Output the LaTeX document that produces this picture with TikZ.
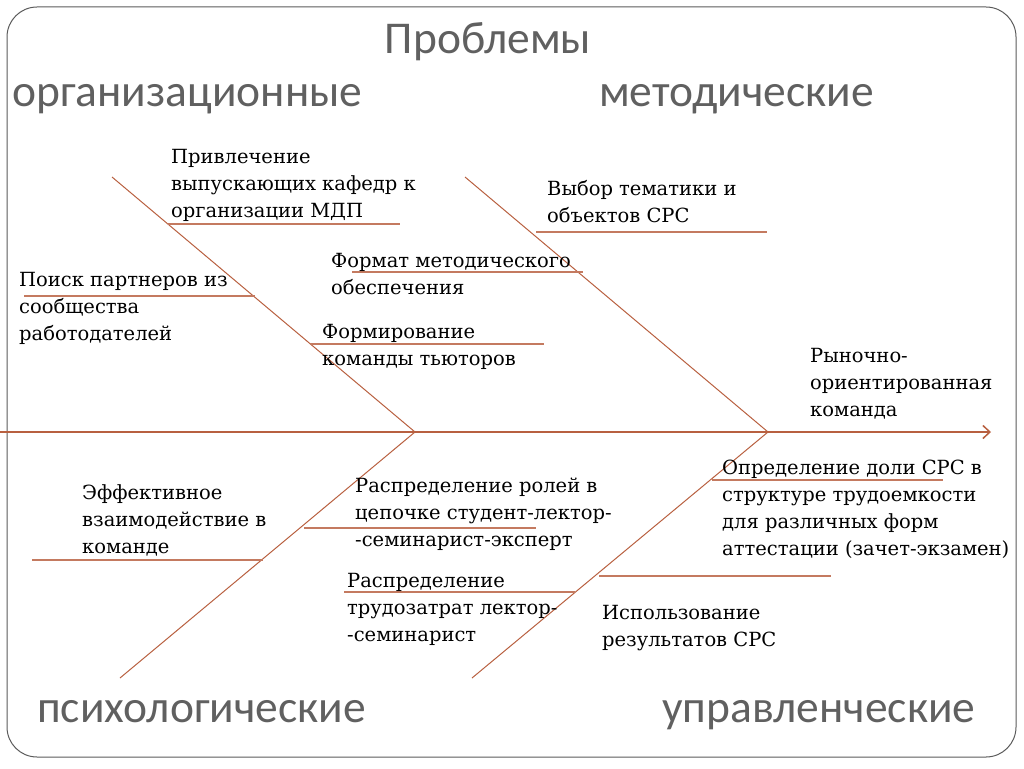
\documentclass[tikz,border=0pt]{standalone}
\usepackage{fontspec}
\setmainfont{DejaVu Serif}
\newfontfamily\headfont{Carlito}
\usetikzlibrary{arrows.meta}
\definecolor{bone}{RGB}{184,96,64}
\definecolor{rib}{RGB}{196,122,96}
\definecolor{headgray}{RGB}{96,96,96}
\definecolor{framegray}{RGB}{90,90,90}
\newcommand\ml[1]{\begin{tabular}[t]{@{}l@{}}#1\end{tabular}}
\tikzset{
  bodytext/.style={anchor=base west, inner sep=0pt, font=\fontsize{19.5}{27}\selectfont, text=black},
  headtext/.style={anchor=base west, inner sep=0pt, font=\headfont\fontsize{45.5}{52}\selectfont, text=headgray},
  boneline/.style={draw=bone, line width=1pt},
  spineline/.style={draw=bone, line width=2pt},
  ribline/.style={draw=rib, line width=1.5pt},
}
\begin{document}
\begin{tikzpicture}[x=1pt,y=-1pt]
\useasboundingbox (0,0) rectangle (1024,768);
\draw[framegray, line width=1pt, rounded corners=30pt] (7,7) rectangle (1016,757);
% headings
\node[headtext, anchor=base] (hProb) at (488,53) {Проблемы};
\node[headtext] (hOrg) at (12,106) {организационные};
\node[headtext] (hMet) at (599,106) {методические};
\node[headtext] (hPsy) at (37,722) {психологические};
\node[headtext] (hUpr) at (662,722) {управленческие};
% skeleton
\coordinate (s0) at (0,432);
\coordinate (s1) at (991,432);
\coordinate (J1) at (415,432);
\coordinate (J2) at (768,432);
\coordinate (ULt) at (112,177);
\coordinate (URt) at (465,177);
\coordinate (LLb) at (120,678);
\coordinate (LRb) at (472,678);
\draw[spineline, -{Straight Barb[length=7pt,width=13pt,line width=1.5pt]}] (s0) -- (s1);
\draw[boneline] (ULt) -- (J1) -- (LLb);
\draw[boneline] (URt) -- (J2) -- (LRb);
% ribs
\coordinate (r1a) at (168,224); \coordinate (r1b) at (400,224);
\coordinate (r2a) at (24,296);  \coordinate (r2b) at (255,296);
\coordinate (r3a) at (310,344); \coordinate (r3b) at (544,344);
\coordinate (r4a) at (352,272); \coordinate (r4b) at (583,272);
\coordinate (r5a) at (536,232); \coordinate (r5b) at (767,232);
\coordinate (r6a) at (32,560);  \coordinate (r6b) at (263,560);
\coordinate (r7a) at (304,528); \coordinate (r7b) at (536,528);
\coordinate (r8a) at (344,592); \coordinate (r8b) at (575,592);
\coordinate (r9a) at (712,480); \coordinate (r9b) at (943,480);
\coordinate (r10a) at (599,576); \coordinate (r10b) at (831,576);
\foreach \r in {1,...,10} \draw[ribline] (r\r a) -- (r\r b);
% texts
\node[bodytext] (t1) at (171,163) {\ml{Привлечение\\выпускающих кафедр к\\организации МДП}};
\node[bodytext] (t2) at (19,286) {\ml{Поиск партнеров из\\сообщества\\работодателей}};
\node[bodytext] (t3) at (331,267) {\ml{Формат методического\\обеспечения}};
\node[bodytext] (t4) at (322,338) {\ml{Формирование\\команды тьюторов}};
\node[bodytext] (t5) at (547,195) {\ml{Выбор тематики и\\объектов СРС}};
\node[bodytext] (t6) at (810,362) {\ml{Рыночно-\\ориентированная\\команда}};
\node[bodytext] (t7) at (82,499) {\ml{Эффективное\\взаимодействие в\\команде}};
\node[bodytext] (t8) at (355,492) {\ml{Распределение ролей в\\цепочке студент-лектор-\\-семинарист-эксперт}};
\node[bodytext] (t9) at (347,587) {\ml{Распределение\\трудозатрат лектор-\\-семинарист}};
\node[bodytext] (t10) at (722,474) {\ml{Определение доли СРС в\\структуре трудоемкости\\для различных форм\\аттестации (зачет-экзамен)}};
\node[bodytext] (t11) at (602,619) {\ml{Использование\\результатов СРС}};
\end{tikzpicture}
\end{document}
